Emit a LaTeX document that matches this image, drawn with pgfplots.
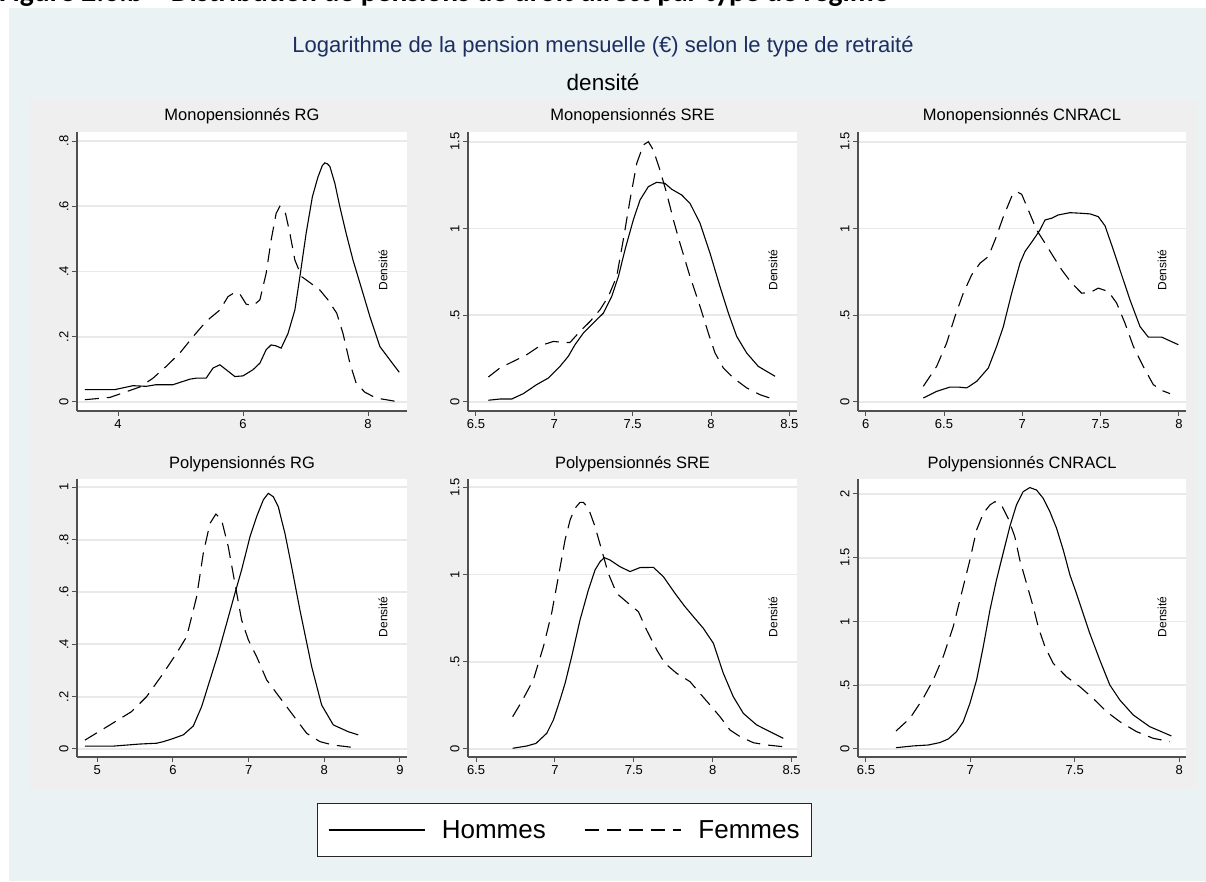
\documentclass[border=0pt]{standalone}
\usepackage{pgfplots}
\pgfplotsset{compat=1.18}
\usepackage{fontspec}
\setmainfont{Liberation Sans}
\newfontfamily\carlito{Carlito}

\definecolor{bgblue}{RGB}{234,242,243}
\definecolor{bggray}{RGB}{239,239,239}
\definecolor{titlenavy}{RGB}{28,46,98}
\definecolor{gridgray}{RGB}{232,233,234}
\definecolor{axisgray}{RGB}{80,80,80}

\tikzset{densite/.style={rotate=90, font=\fontsize{12}{14}\selectfont}}

\pgfplotsset{
  hommes/.style={black, line width=1.1pt, solid},
  femmes/.style={black, line width=1.1pt, dash pattern=on 14pt off 8pt},
  panel/.style={
    scale only axis,
    axis x line*=bottom, axis y line*=left,
    axis line style={axisgray, line width=1.2pt},
    tick align=outside, major tick length=5pt,
    tick style={axisgray, line width=1pt},
    ymajorgrids, major grid style={gridgray, line width=1.8pt},
    axis background/.style={fill=white},
    ticklabel style={font=\fontsize{13}{15}\selectfont},
    yticklabel style={rotate=90, anchor=south},
    title style={font=\fontsize{16.5}{19}\selectfont, at={(0.5,1)}, anchor=base, yshift=5pt},
    /pgf/number format/fixed,
    /pgf/number format/assume math mode=true,
  },
}

\begin{document}
\begin{tikzpicture}
\useasboundingbox (0pt,0pt) rectangle (1206pt,881pt);
\clip (0pt,0pt) rectangle (1206pt,881pt);
\fill[white] (0pt,0pt) rectangle (1206pt,881pt);
\fill[bgblue] (9pt,0pt) rectangle (1206pt,873pt);
\fill[bggray] (29pt,91pt) rectangle (1198pt,782pt);

\node[anchor=base west, inner sep=0pt, font=\carlito\bfseries\fontsize{29.5}{34}\selectfont]
  at (-1pt,879.5pt) {Figure 2.6.b – Distribution de pensions de droit direct par type de régime};
\node[font=\fontsize{22}{26}\selectfont, text=titlenavy] at (603pt,834pt)
  {Logarithme de la pension mensuelle (€) selon le type de retraité};
\node[font=\fontsize{22.5}{26}\selectfont] at (603pt,799pt) {densité};

% ---------- Monopensionnés RG ----------
\begin{axis}[panel, at={(77pt,470pt)}, anchor=south west, width=330pt, height=279pt,
  xmin=3.344, xmax=8.624, ymin=-0.0276, ymax=0.8276,
  xtick={4,6,8}, ytick={0,0.2,0.4,0.6,0.8}, yticklabels={0,.2,.4,.6,.8},
  title={Monopensionnés RG}]
\addplot[hommes] coordinates {(3.47,0.038)(3.95,0.038)(4.24,0.05)(4.45,0.048)(4.61,0.053)(4.88,0.053)(5.15,0.07)(5.25,0.073)(5.41,0.073)(5.52,0.104)(5.63,0.114)(5.73,0.099)(5.87,0.078)(6.0,0.08)(6.16,0.099)(6.27,0.119)(6.37,0.16)(6.45,0.175)(6.53,0.172)(6.61,0.165)(6.72,0.21)(6.83,0.282)(6.91,0.384)(7.01,0.517)(7.11,0.629)(7.2,0.69)(7.27,0.725)(7.31,0.733)(7.35,0.73)(7.39,0.722)(7.47,0.67)(7.55,0.598)(7.65,0.517)(7.76,0.435)(7.92,0.333)(8.03,0.262)(8.19,0.17)(8.35,0.129)(8.5,0.091)};
\addplot[femmes] coordinates {(3.47,0.007)(3.87,0.014)(4.08,0.028)(4.35,0.046)(4.56,0.073)(4.77,0.109)(4.99,0.15)(5.2,0.2)(5.41,0.247)(5.63,0.282)(5.76,0.323)(5.87,0.336)(5.95,0.331)(6.05,0.3)(6.16,0.295)(6.27,0.313)(6.37,0.394)(6.45,0.496)(6.53,0.578)(6.59,0.6)(6.68,0.578)(6.75,0.517)(6.83,0.435)(6.94,0.384)(7.07,0.366)(7.23,0.343)(7.36,0.313)(7.5,0.272)(7.6,0.21)(7.71,0.119)(7.81,0.058)(7.95,0.03)(8.13,0.012)(8.29,0.007)(8.5,0.0)};
\node[densite] at (rel axis cs:0.927,0.505) {Densité};
\end{axis}

% ---------- Monopensionnés SRE ----------
\begin{axis}[panel, at={(468pt,470pt)}, anchor=south west, width=329pt, height=279pt,
  xmin=6.449, xmax=8.549, ymin=-0.052, ymax=1.556,
  xtick={6.5,7,7.5,8,8.5}, ytick={0,0.5,1,1.5}, yticklabels={0,.5,1,1.5},
  title={Monopensionnés SRE}]
\addplot[hommes] coordinates {(6.579,0.01)(6.653,0.017)(6.728,0.017)(6.802,0.048)(6.887,0.1)(6.962,0.138)(7.036,0.205)(7.089,0.263)(7.132,0.33)(7.185,0.397)(7.249,0.455)(7.313,0.512)(7.366,0.608)(7.409,0.723)(7.451,0.877)(7.504,1.049)(7.547,1.164)(7.6,1.241)(7.653,1.266)(7.706,1.26)(7.749,1.226)(7.813,1.193)(7.866,1.145)(7.93,1.03)(7.994,0.857)(8.057,0.666)(8.111,0.512)(8.164,0.378)(8.228,0.282)(8.302,0.205)(8.409,0.148)};
\addplot[femmes] coordinates {(6.579,0.144)(6.653,0.196)(6.738,0.234)(6.823,0.272)(6.909,0.324)(6.994,0.349)(7.057,0.343)(7.1,0.343)(7.164,0.407)(7.228,0.464)(7.291,0.531)(7.345,0.608)(7.398,0.723)(7.44,0.934)(7.483,1.164)(7.526,1.375)(7.568,1.481)(7.6,1.5)(7.632,1.452)(7.674,1.337)(7.717,1.203)(7.76,1.049)(7.802,0.915)(7.866,0.723)(7.93,0.551)(7.983,0.397)(8.026,0.282)(8.079,0.196)(8.143,0.138)(8.228,0.081)(8.313,0.042)(8.409,0.013)};
\node[densite] at (rel axis cs:0.927,0.505) {Densité};
\end{axis}

% ---------- Monopensionnés CNRACL ----------
\begin{axis}[panel, at={(858pt,470pt)}, anchor=south west, width=328pt, height=279pt,
  xmin=5.951, xmax=8.045, ymin=-0.052, ymax=1.556,
  xtick={6,6.5,7,7.5,8}, ytick={0,0.5,1,1.5}, yticklabels={0,.5,1,1.5},
  title={Monopensionnés CNRACL}]
\addplot[hommes] coordinates {(6.368,0.023)(6.453,0.061)(6.538,0.086)(6.591,0.086)(6.645,0.081)(6.709,0.119)(6.783,0.196)(6.836,0.32)(6.879,0.435)(6.932,0.627)(6.985,0.8)(7.017,0.867)(7.07,0.934)(7.113,0.992)(7.145,1.049)(7.187,1.059)(7.23,1.078)(7.304,1.091)(7.368,1.088)(7.432,1.084)(7.485,1.068)(7.528,1.015)(7.581,0.877)(7.623,0.762)(7.687,0.589)(7.751,0.435)(7.804,0.374)(7.889,0.374)(7.996,0.33)};
\addplot[femmes] coordinates {(6.368,0.09)(6.453,0.205)(6.517,0.34)(6.57,0.493)(6.623,0.627)(6.677,0.733)(6.73,0.8)(6.783,0.838)(6.826,0.934)(6.879,1.068)(6.932,1.184)(6.964,1.212)(6.996,1.197)(7.038,1.107)(7.091,0.992)(7.145,0.915)(7.198,0.838)(7.251,0.762)(7.315,0.685)(7.379,0.627)(7.432,0.631)(7.485,0.656)(7.549,0.637)(7.602,0.57)(7.655,0.455)(7.709,0.32)(7.772,0.205)(7.836,0.1)(7.889,0.067)(7.943,0.048)};
\node[densite] at (rel axis cs:0.927,0.505) {Densité};
\end{axis}

% ---------- Polypensionnés RG ----------
\begin{axis}[panel, at={(77pt,124pt)}, anchor=south west, width=330pt, height=277.7pt,
  xmin=4.732, xmax=9.093, ymin=-0.0306, ymax=1.0306,
  xtick={5,6,7,8,9}, ytick={0,0.2,0.4,0.6,0.8,1}, yticklabels={0,.2,.4,.6,.8,1},
  title={Polypensionnés RG}]
\addplot[hommes] coordinates {(4.837,0.011)(5.211,0.011)(5.564,0.019)(5.784,0.022)(5.872,0.028)(5.982,0.038)(6.137,0.054)(6.269,0.088)(6.379,0.162)(6.489,0.264)(6.599,0.366)(6.709,0.48)(6.819,0.595)(6.907,0.684)(7.018,0.811)(7.106,0.888)(7.194,0.952)(7.26,0.977)(7.326,0.964)(7.392,0.926)(7.48,0.824)(7.568,0.697)(7.678,0.531)(7.833,0.315)(7.965,0.168)(8.119,0.092)(8.317,0.066)(8.449,0.054)};
\addplot[femmes] coordinates {(4.837,0.034)(5.167,0.092)(5.454,0.143)(5.652,0.2)(5.872,0.289)(6.048,0.366)(6.181,0.429)(6.313,0.582)(6.401,0.748)(6.489,0.862)(6.568,0.898)(6.643,0.875)(6.731,0.773)(6.819,0.633)(6.907,0.493)(6.996,0.417)(7.106,0.353)(7.238,0.264)(7.37,0.213)(7.502,0.162)(7.634,0.111)(7.767,0.06)(7.943,0.028)(8.119,0.015)(8.295,0.009)(8.449,0.003)};
\node[densite] at (rel axis cs:0.927,0.505) {Densité};
\end{axis}

% ---------- Polypensionnés SRE (carries the legend) ----------
\begin{axis}[panel, at={(468pt,124pt)}, anchor=south west, width=329pt, height=277.7pt,
  xmin=6.449, xmax=8.534, ymin=-0.046, ymax=1.546,
  xtick={6.5,7,7.5,8,8.5}, ytick={0,0.5,1,1.5}, yticklabels={0,.5,1,1.5},
  title={Polypensionnés SRE},
  legend columns=2,
  legend image code/.code={\draw[#1, line width=2.6pt] (0pt,0pt) -- (96pt,0pt);},
  legend style={at={(0.293,-0.263)}, anchor=center, draw=black!85, line width=1pt,
    fill=white, font=\fontsize{26}{30}\selectfont, inner xsep=10pt, inner ysep=15pt,
    /tikz/every odd column/.append style={column sep=14pt},
    /tikz/every even column/.append style={column sep=36pt}}]
\addplot[hommes] coordinates {(6.732,0.004)(6.821,0.017)(6.88,0.032)(6.948,0.09)(6.99,0.166)(7.032,0.281)(7.064,0.376)(7.106,0.529)(7.159,0.74)(7.212,0.912)(7.254,1.026)(7.286,1.074)(7.313,1.097)(7.349,1.083)(7.412,1.045)(7.476,1.017)(7.539,1.04)(7.624,1.041)(7.687,0.988)(7.761,0.892)(7.824,0.816)(7.877,0.759)(7.94,0.692)(8.004,0.606)(8.067,0.434)(8.13,0.3)(8.194,0.204)(8.278,0.138)(8.363,0.099)(8.447,0.061)};
\addlegendentry{Hommes}
\addplot[femmes] coordinates {(6.732,0.185)(6.789,0.271)(6.863,0.396)(6.927,0.587)(6.979,0.778)(7.022,0.988)(7.064,1.198)(7.096,1.313)(7.127,1.38)(7.159,1.414)(7.18,1.414)(7.212,1.38)(7.254,1.275)(7.296,1.141)(7.338,1.007)(7.391,0.892)(7.465,0.835)(7.529,0.787)(7.581,0.682)(7.645,0.568)(7.697,0.491)(7.771,0.434)(7.856,0.386)(7.919,0.319)(7.983,0.252)(8.046,0.185)(8.109,0.109)(8.173,0.071)(8.257,0.036)(8.342,0.023)(8.447,0.013)};
\addlegendentry{Femmes}
\node[densite] at (rel axis cs:0.927,0.505) {Densité};
\end{axis}

% ---------- Polypensionnés CNRACL ----------
\begin{axis}[panel, at={(858pt,124pt)}, anchor=south west, width=328pt, height=277.7pt,
  xmin=6.462, xmax=8.033, ymin=-0.063, ymax=2.115,
  xtick={6.5,7,7.5,8}, ytick={0,0.5,1,1.5,2}, yticklabels={0,.5,1,1.5,2},
  title={Polypensionnés CNRACL}]
\addplot[hommes] coordinates {(6.644,0.01)(6.727,0.024)(6.798,0.031)(6.854,0.05)(6.894,0.078)(6.934,0.136)(6.966,0.214)(6.998,0.358)(7.03,0.541)(7.062,0.803)(7.094,1.09)(7.125,1.325)(7.157,1.535)(7.189,1.744)(7.221,1.914)(7.253,2.018)(7.285,2.05)(7.317,2.031)(7.349,1.966)(7.381,1.861)(7.413,1.731)(7.445,1.561)(7.477,1.365)(7.508,1.221)(7.54,1.064)(7.572,0.907)(7.62,0.698)(7.668,0.502)(7.716,0.384)(7.78,0.267)(7.859,0.175)(7.963,0.102)};
\addplot[femmes] coordinates {(6.644,0.141)(6.711,0.241)(6.774,0.397)(6.822,0.541)(6.87,0.724)(6.918,0.959)(6.958,1.221)(6.998,1.482)(7.03,1.718)(7.062,1.848)(7.094,1.914)(7.118,1.94)(7.149,1.914)(7.181,1.809)(7.213,1.665)(7.237,1.482)(7.269,1.299)(7.301,1.116)(7.325,0.959)(7.357,0.803)(7.397,0.672)(7.46,0.567)(7.524,0.489)(7.588,0.397)(7.652,0.293)(7.716,0.214)(7.796,0.136)(7.875,0.084)(7.955,0.058)};
\node[densite] at (rel axis cs:0.927,0.505) {Densité};
\end{axis}
\end{tikzpicture}
\end{document}
